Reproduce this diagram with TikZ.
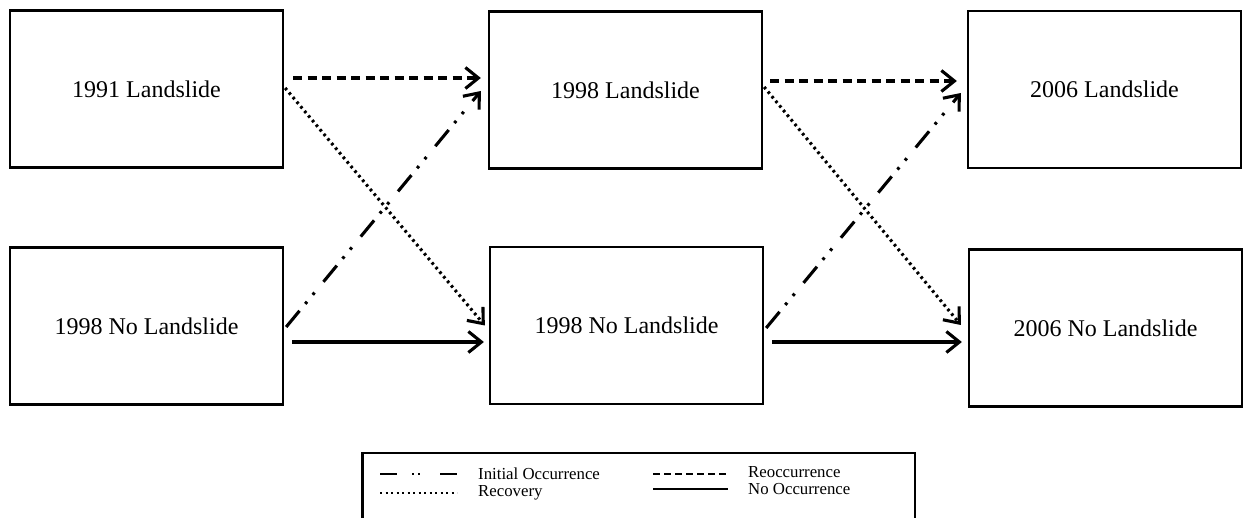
\documentclass[tikz,border=0pt]{standalone}
\usepackage{fontspec}
\setmainfont{Liberation Serif}
\usetikzlibrary{arrows.meta}
\begin{document}
\begin{tikzpicture}[x=1pt,y=-1pt,
  box/.style={draw=black,line width=2.3pt,rectangle,minimum width=273pt,minimum height=157pt,inner sep=0pt,
    font=\fontsize{24}{28}\selectfont},
  conn/.style={line width=3.1pt,-{Straight Barb[length=13pt,width=21pt,line width=3.1pt]}},
  reocc/.style={conn,dash pattern=on 9pt off 5.5pt},
  recov/.style={conn,dash pattern=on 2.6pt off 3.4pt},
  initocc/.style={conn,dash pattern=on 21pt off 9pt on 2.8pt off 9pt on 2.8pt off 14pt},
  noocc/.style={conn},
  legtext/.style={anchor=west,inner sep=0pt,font=\fontsize{16.8}{19}\selectfont},
  legline/.style={line width=2.6pt}
]
\useasboundingbox (0,0) rectangle (1244,518);

\node[box] (b1) at (146.5,89) {1991 Landslide};
\node[box] (b2) at (146.5,326) {1998 No Landslide};
\node[box] (b3) at (625.5,90) {1998 Landslide};
\node[box] (b4) at (626.5,325.5) {1998 No Landslide};
\node[box] (b5) at (1104.5,89.5) {2006 Landslide};
\node[box] (b6) at (1105.5,328) {2006 No Landslide};

% left to middle
\draw[reocc] ([shift={(9pt,11pt)}]b1.east) -- ([shift={(-7pt,12pt)}]b3.west);
\draw[recov] ([shift={(1pt,1pt)}]b1.east) -- ([shift={(-4pt,0pt)}]b4.west);
\draw[initocc] ([shift={(2pt,-1pt)}]b2.east) -- ([shift={(-7pt,-1pt)}]b3.west);
\draw[noocc] ([shift={(8pt,-16pt)}]b2.east) -- ([shift={(-5pt,-16.5pt)}]b4.west);

% middle to right
\draw[reocc] ([shift={(7pt,9pt)}]b3.east) -- ([shift={(-10pt,8.5pt)}]b5.west);
\draw[recov] ([shift={(1pt,3pt)}]b3.east) -- ([shift={(-7pt,3pt)}]b6.west);
\draw[initocc] ([shift={(2pt,-2.5pt)}]b4.east) -- ([shift={(-6pt,-3.5pt)}]b5.west);
\draw[noocc] ([shift={(8pt,-16.5pt)}]b4.east) -- ([shift={(-6pt,-14pt)}]b6.west);

% legend
\coordinate (lgA) at (362.5,520);
\coordinate (lgB) at (362.5,453);
\coordinate (lgC) at (915,453);
\coordinate (lgD) at (915,520);
\draw[line width=2.3pt] (lgA) -- (lgB) -- (lgC) -- (lgD);

\coordinate (l1a) at (380,474); \coordinate (l1b) at (457,474);
\coordinate (l2a) at (380,493); \coordinate (l2b) at (457,493);
\coordinate (l3a) at (653,474); \coordinate (l3b) at (728,474);
\coordinate (l4a) at (653,489); \coordinate (l4b) at (728,489);
\draw[legline,dash pattern=on 17pt off 15pt on 2.2pt off 3.8pt on 2.2pt off 20pt] (l1a) -- (l1b);
\draw[legline,dash pattern=on 2.2pt off 3.3pt] (l2a) -- (l2b);
\draw[legline,dash pattern=on 7pt off 4pt] (l3a) -- (l3b);
\draw[legline] (l4a) -- (l4b);

\node[legtext] (t1) at (478,474) {Initial Occurrence};
\node[legtext] (t2) at (478,493) {Recovery};
\node[legtext] (t3) at (748,472) {Reoccurrence};
\node[legtext] (t4) at (748,489) {No Occurrence};
\end{tikzpicture}
\end{document}
